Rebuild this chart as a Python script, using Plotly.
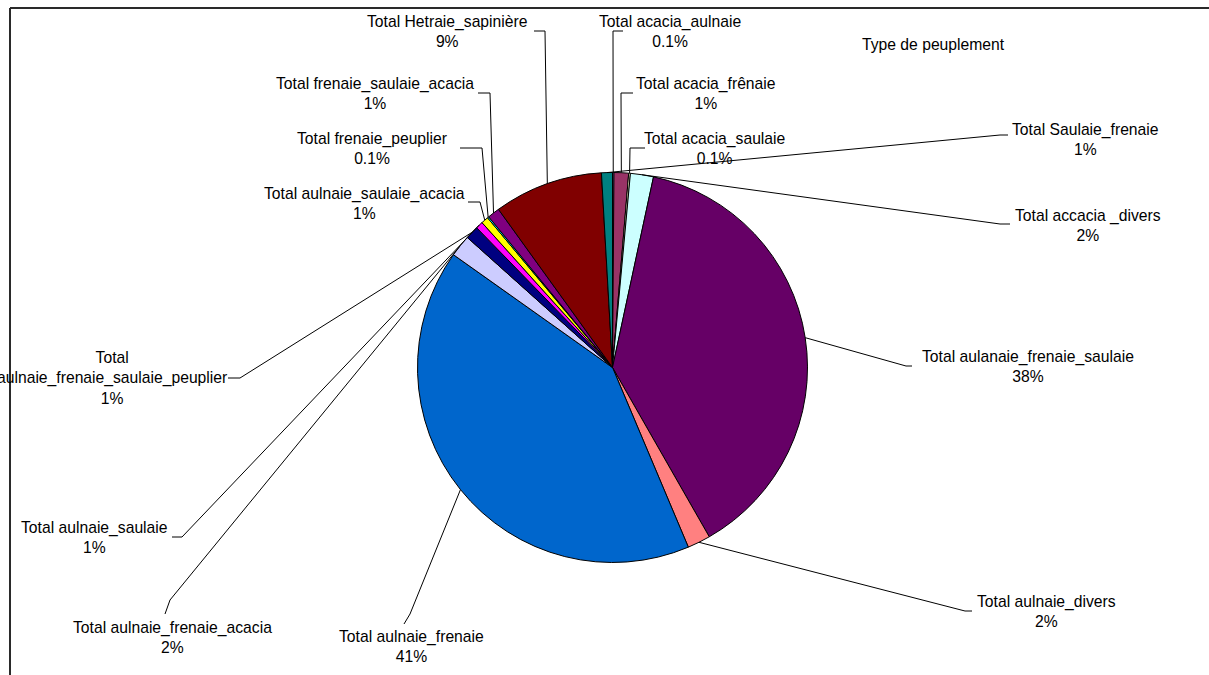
import numpy as np
import plotly.graph_objects as go

# ---- data ----
categories = [
    "Total acacia_aulnaie", "Total acacia_frênaie", "Total acacia_saulaie",
    "Total accacia _divers", "Total aulanaie_frenaie_saulaie", "Total aulnaie_divers",
    "Total aulnaie_frenaie", "Total aulnaie_frenaie_acacia",
    "Total<br>aulnaie_frenaie_saulaie_peuplier", "Total aulnaie_saulaie",
    "Total aulnaie_saulaie_acacia", "Total frenaie_peuplier",
    "Total frenaie_saulaie_acacia", "Total Hetraie_sapinière", "Total Saulaie_frenaie",
]
values = [0.12, 1.2, 0.14, 1.9, 38.2, 1.9, 41.0, 1.8, 1.1, 0.6, 0.6, 0.12, 1.0, 9.0, 0.9]
colors = ["#9999FF", "#993366", "#FFFFCC", "#CCFFFF", "#660066", "#FF8080", "#0066CC",
          "#CCCCFF", "#000080", "#FF00FF", "#FFFF00", "#00FFFF", "#800080", "#800000",
          "#008080"]
chart_title = "Type de peuplement"

# ---- layout (pixels) ----
W, H = 1209, 675
CX, CY, R = 612.5, 367.5, 195
# label block centre, leader attach point, elbow point
label_pos = [(670, 31), (706, 93), (715, 148), (1088, 226), (1028, 366), (1046, 611),
             (411, 646), (172, 637), (112, 378), (94, 537), (364, 204), (372, 148),
             (375, 93), (447, 31), (1085, 139)]
attach_pos = [(623, 31), (633, 93), (645, 148), (1010, 224), (912, 366), (972, 611),
              (404, 624), (165, 614), (228, 378), (172, 537), (468, 202), (460, 148),
              (478, 93), (534, 31), (1008, 135)]
elbow_pos = [(613, 31), (621, 93), (630, 148), (1000, 224), (906, 366), (965, 611),
             (410, 614), (170, 600), (240, 378), (182, 537), (480, 202), (482, 148),
             (490, 93), (545, 31), (1000, 135)]

def px(x):
    return x / W

def py(y):
    return 1 - y / H

fig = go.Figure(go.Pie(
    labels=categories, values=values, sort=False, direction="clockwise", rotation=0,
    marker=dict(colors=colors, line=dict(color="black", width=1)),
    textinfo="none", hoverinfo="label+percent", showlegend=False,
    domain=dict(x=[px(CX - R), px(CX + R)], y=[py(CY + R), py(CY - R)]),
))

total = sum(values)
cum = np.cumsum([0] + values)
font = dict(family="Liberation Sans, Arial, sans-serif", size=15.7, color="black")
annotations = []
shapes = []
for i, (lab, v) in enumerate(zip(categories, values)):
    pct = v / total * 100
    ptxt = f"{pct:.1f}%" if pct < 0.5 else f"{round(pct)}%"
    lx, ly = label_pos[i]
    annotations.append(dict(x=px(lx), y=py(ly), xref="paper", yref="paper",
                            text=f"{lab}<br>{ptxt}", showarrow=False, align="center",
                            xanchor="center", yanchor="middle", font=font))
    mid = (cum[i] + v / 2) / total * 2 * np.pi
    ex = CX + R * np.sin(mid)
    ey = CY - R * np.cos(mid)
    ax, ay = attach_pos[i]
    bx, by = elbow_pos[i]
    path = (f"M {px(ax)},{py(ay)} L {px(bx)},{py(by)} L {px(ex)},{py(ey)}")
    shapes.append(dict(type="path", path=path, xref="paper", yref="paper",
                       line=dict(color="black", width=1)))

annotations.append(dict(x=px(933), y=py(45), xref="paper", yref="paper", text=chart_title,
                        showarrow=False, xanchor="center", yanchor="middle", font=font))
# chart frame (top and left edges visible)
shapes.append(dict(type="line", xref="paper", yref="paper", x0=px(10), y0=py(8),
                   x1=px(1215), y1=py(8), line=dict(color="#2a2a2a", width=2)))
shapes.append(dict(type="line", xref="paper", yref="paper", x0=px(10), y0=py(8),
                   x1=px(10), y1=py(680), line=dict(color="#2a2a2a", width=2)))

fig.update_layout(width=W, height=H, margin=dict(l=0, r=0, t=0, b=0),
                  paper_bgcolor="white", plot_bgcolor="white",
                  annotations=annotations, shapes=shapes)
fig.write_html("out.html")
